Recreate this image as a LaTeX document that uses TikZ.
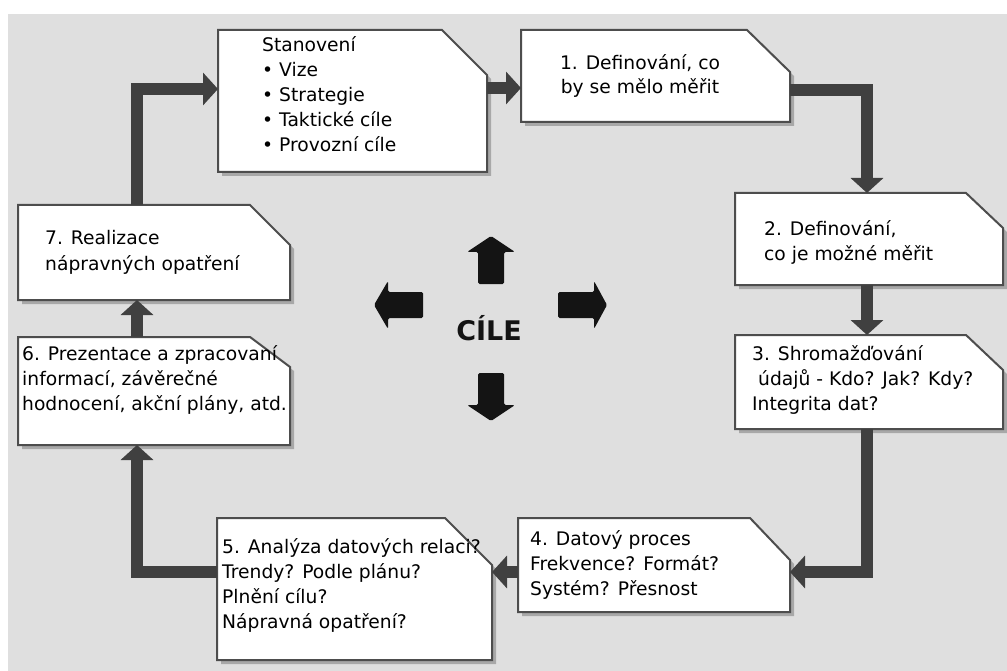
\documentclass[tikz,border=0pt]{standalone}
\usepackage{fontspec}
\setmainfont{DejaVu Sans}
\usetikzlibrary{arrows.meta}

\definecolor{bgcol}{HTML}{DFDFDF}
\definecolor{conncol}{HTML}{404040}
\definecolor{framecol}{HTML}{4D4D4D}
\definecolor{shadowcol}{HTML}{A8A8A8}
\definecolor{blockcol}{HTML}{141414}

\pgfdeclarelayer{back}
\pgfdeclarelayer{boxes}
\pgfsetlayers{back,boxes,main}

% outline of a box with its upper right corner cut off, plus its shadow
\newcommand\cutframe[3]{%
  \begin{pgfonlayer}{boxes}
    \fill[shadowcol]
      ([shift={(4pt,-4pt)}]#1.north west) -- ([shift={(4pt-#2,-4pt)}]#1.north east)
      -- ([shift={(4pt,-4pt-#3)}]#1.north east) -- ([shift={(4pt,-4pt)}]#1.south east)
      -- ([shift={(4pt,-4pt)}]#1.south west) -- cycle;
    \filldraw[fill=white, draw=framecol, line width=2pt, line join=miter]
      (#1.north west) -- ([xshift=-#2]#1.north east) -- ([yshift=-#3]#1.north east)
      -- (#1.south east) -- (#1.south west) -- cycle;
  \end{pgfonlayer}}

\tikzset{
  box/.style={rectangle, inner sep=0pt, outer sep=0pt},
  txt/.style={inner sep=0pt, anchor=base west, font=\fontsize{18.7}{25}\selectfont},
  conn/.style={draw=conncol, line width=12pt, line join=miter,
    -{Triangle[width=32pt,length=15pt]}},
  blockarrow/.style={fill=blockcol, rounded corners=1.5pt},
}

\begin{document}
\begin{tikzpicture}[x=1pt, y=-1pt]
\useasboundingbox (0,0) rectangle (1007,671);
\begin{pgfonlayer}{back}
  \fill[bgcol] (8,14) rectangle (1007,671);
\end{pgfonlayer}

% process boxes
\node[box, minimum width=269pt, minimum height=142pt] (S)  at (352.5,101) {};
\node[box, minimum width=269pt, minimum height=92pt]  (b1) at (655.5,76) {};
\node[box, minimum width=268pt, minimum height=92pt]  (b2) at (869,239) {};
\node[box, minimum width=268pt, minimum height=94pt]  (b3) at (869,382) {};
\node[box, minimum width=272pt, minimum height=94pt]  (b4) at (654,565) {};
\node[box, minimum width=275pt, minimum height=142pt] (b5) at (354.5,589) {};
\node[box, minimum width=272pt, minimum height=108pt] (b6) at (154,391) {};
\node[box, minimum width=272pt, minimum height=95pt]  (b7) at (154,252.5) {};

\cutframe{S}{45pt}{45pt}
\cutframe{b1}{43pt}{42pt}
\cutframe{b2}{37pt}{35pt}
\cutframe{b3}{37pt}{35pt}
\cutframe{b4}{40pt}{42pt}
\cutframe{b5}{47pt}{47pt}
\cutframe{b6}{40pt}{30pt}
\cutframe{b7}{40pt}{40pt}

% box texts
\node[txt] (S-t) at (262,52) {\begin{tabular}[t]{@{}l@{}}Stanovení\\• Vize\\• Strategie\\• Taktické cíle\\• Provozní cíle\end{tabular}};
\node[txt, anchor=base, font=\fontsize{18.7}{23.5}\selectfont] (b1-t) at (640,70) {\begin{tabular}[t]{@{}c@{}}1. Definování, co\\by se mělo měřit\end{tabular}};
\node[txt] (b2-t) at (764,236) {\begin{tabular}[t]{@{}l@{}}2. Definování,\\co je možné měřit\end{tabular}};
\node[txt] (b3-t) at (752,360) {\begin{tabular}[t]{@{}l@{}}3. Shromažďování\\\ údajů - Kdo? Jak? Kdy?\\Integrita dat?\end{tabular}};
\node[txt] (b4-t) at (530,545) {\begin{tabular}[t]{@{}l@{}}4. Datový proces\\Frekvence? Formát?\\Systém? Přesnost\end{tabular}};
\node[txt] (b5-t) at (222,553) {\begin{tabular}[t]{@{}l@{}}5. Analýza datových relaci?\\Trendy? Podle plánu?\\Plnění cílu?\\Nápravná opatření?\end{tabular}};
\node[txt] (b6-t) at (22,360) {\begin{tabular}[t]{@{}l@{}}6. Prezentace a zpracovaní\\informací, závěrečné\\hodnocení, akční plány, atd.\end{tabular}};
\node[txt] (b7-t) at (45,245) {\begin{tabular}[t]{@{}l@{}}7. Realizace\\nápravných opatření\end{tabular}};

% bend points of the cycle
\coordinate (kL) at (137,89);
\coordinate (kT) at (500,88);
\coordinate (kR) at (867,90);
\coordinate (kB) at (867,572);
\coordinate (kA) at (137,572);

% connectors
\draw[conn] (b7.north -| kL) -- (kL) -- (kL -| S.west);
\draw[conn] (S.east |- kT) -- (b1.west |- kT);
\draw[conn] (b1.east |- kR) -- (kR) -- (kR |- b2.north);
\draw[conn] (b2.south -| kR) -- (b3.north -| kR);
\draw[conn] (b3.south -| kB) -- (kB) -- (kB -| b4.east);
\draw[conn] (b4.west |- kB) -- (b5.east |- kB);
\draw[conn] (b5.west |- kA) -- (kA) -- (kA |- b6.south);
\draw[conn] (b6.north -| kA) -- (b7.south -| kA);

% centre
\node[font=\bfseries\fontsize{27}{30}\selectfont, text=blockcol] (goal) at (489,328) {CÍLE};
\fill[blockarrow] (491,236) -- (515,252) -- (504,252) -- (504,284) -- (478,284) -- (478,252) -- (467,252) -- cycle;
\fill[blockarrow] (491,421) -- (515,405) -- (504,405) -- (504,373) -- (478,373) -- (478,405) -- (467,405) -- cycle;
\fill[blockarrow] (374,305) -- (388,281) -- (388,292) -- (423,292) -- (423,318) -- (388,318) -- (388,329) -- cycle;
\fill[blockarrow] (607,305) -- (594,281) -- (594,292) -- (558,292) -- (558,318) -- (594,318) -- (594,329) -- cycle;
\end{tikzpicture}
\end{document}
